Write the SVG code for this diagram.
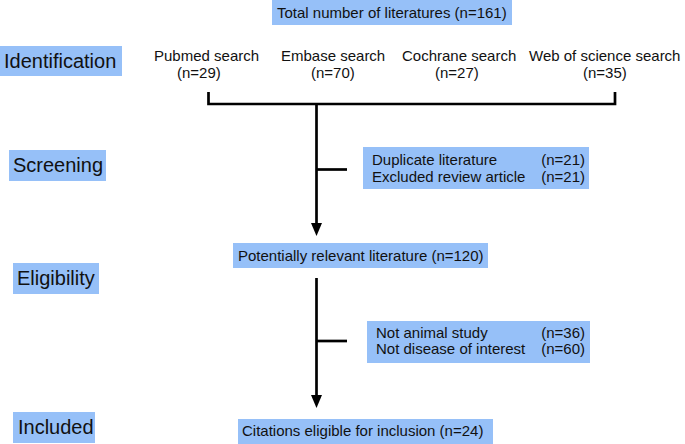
<svg xmlns="http://www.w3.org/2000/svg" width="685" height="444" viewBox="0 0 685 444">
<style>
  .box { fill: #96C0F8; }
  .t { font-family: "Liberation Sans", Arial, sans-serif; font-size: 15px; fill: #111; }
  .lbl { font-family: "Liberation Sans", Arial, sans-serif; font-size: 20px; fill: #111; }
  .ln { stroke: #000; stroke-width: 2.7; fill: none; }
</style>
<defs>
  <marker id="arr" markerWidth="13" markerHeight="11" refX="0" refY="5.5" orient="auto" markerUnits="userSpaceOnUse" viewBox="0 0 13 11">
    <path d="M0,0 L13,5.5 L0,11 Z" fill="#000"/>
  </marker>
</defs>
<rect width="685" height="444" fill="#fff"/>

<g id="stage-identification">
  <rect class="box" x="0" y="46" width="122" height="30"/>
  <text class="lbl" x="4" y="68">Identification</text>
</g>
<g id="stage-screening">
  <rect class="box" x="9" y="150" width="97" height="31"/>
  <text class="lbl" x="13" y="172">Screening</text>
</g>
<g id="stage-eligibility">
  <rect class="box" x="13" y="263" width="86" height="31"/>
  <text class="lbl" x="17" y="285">Eligibility</text>
</g>
<g id="stage-included">
  <rect class="box" x="13" y="412" width="82" height="31"/>
  <text class="lbl" x="18" y="434">Included</text>
</g>

<g id="total">
  <rect class="box" x="272" y="0" width="240" height="25"/>
  <text class="t" x="277" y="17.5">Total number of literatures (n=161)</text>
</g>

<g id="pubmed">
  <text class="t" x="154" y="61">Pubmed search</text>
  <text class="t" x="177" y="78">(n=29)</text>
</g>
<g id="embase">
  <text class="t" x="281" y="61">Embase search</text>
  <text class="t" x="311" y="78">(n=70)</text>
</g>
<g id="cochrane">
  <text class="t" x="402" y="61">Cochrane search</text>
  <text class="t" x="435" y="78">(n=27)</text>
</g>
<g id="wos">
  <text class="t" x="529" y="61">Web of science search</text>
  <text class="t" x="583" y="78">(n=35)</text>
</g>

<g id="excluded-screening">
  <rect class="box" x="363" y="147" width="226" height="42"/>
  <text class="t" x="372" y="165">Duplicate literature</text>
  <text class="t" x="585" y="165" text-anchor="end">(n=21)</text>
  <text class="t" x="372" y="182">Excluded review article</text>
  <text class="t" x="585" y="182" text-anchor="end">(n=21)</text>
</g>

<g id="relevant">
  <rect class="box" x="233" y="243" width="255" height="25"/>
  <text class="t" x="238" y="261">Potentially relevant literature (n=120)</text>
</g>

<g id="excluded-eligibility">
  <rect class="box" x="367" y="321" width="223" height="42"/>
  <text class="t" x="376" y="337.5">Not animal study</text>
  <text class="t" x="585" y="337.5" text-anchor="end">(n=36)</text>
  <text class="t" x="376" y="354">Not disease of interest</text>
  <text class="t" x="585" y="354" text-anchor="end">(n=60)</text>
</g>

<g id="included">
  <rect class="box" x="238" y="419" width="255" height="25"/>
  <text class="t" x="242" y="436">Citations eligible for inclusion (n=24)</text>
</g>

<g id="connectors">
  <path class="ln" d="M208.5,92 V104 H615 V92"/>
  <path class="ln" d="M316.5,104 V223" marker-end="url(#arr)"/>
  <path class="ln" d="M316.5,169.5 H347"/>
  <path class="ln" d="M316.5,278 V395" marker-end="url(#arr)"/>
  <path class="ln" d="M316.5,341 H347"/>
</g>
</svg>
